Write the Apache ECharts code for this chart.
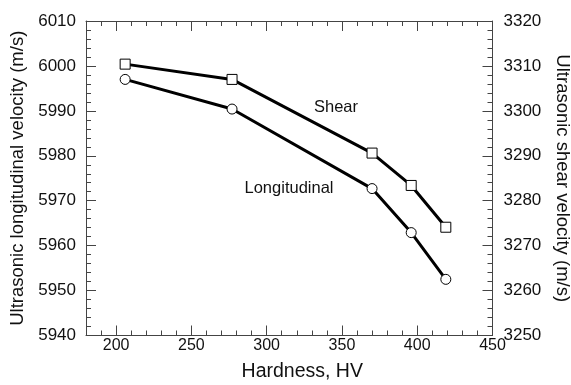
<!DOCTYPE html>
<html><head><meta charset="utf-8">
<script src="https://cdn.jsdelivr.net/npm/echarts@6/dist/echarts.min.js"></script>
<style>html,body{margin:0;padding:0;background:#fff}#c{width:571px;height:385px}</style>
</head><body><div id="c"></div>
<script>
const hardness = [206, 277, 370, 396, 419];
const longitudinal = [5997.0, 5990.4, 5972.7, 5962.9, 5952.5];
const shear = [3310.4, 3307.0, 3290.6, 3283.4, 3274.1];
const xTitle = 'Hardness, HV';
const yLeftTitle = 'Ultrasonic longitudinal velocity (m/s)';
const yRightTitle = 'Ultrasonic shear velocity (m/s)';
const seriesLabels = ['Shear', 'Longitudinal'];

const font = 'Liberation Sans, Arial, sans-serif';
const axisCol = '#444';
const txtCol = '#111';
const chart = echarts.init(document.getElementById('c'));
const xBase = {type:'value', min:180, max:450, splitLine:{show:false}, gridIndex:0};
chart.setOption({
  animation:false,
  grid:{left:86, right:78.5, top:21, bottom:49.5, containLabel:false, outerBoundsMode:'none'},
  xAxis:[
    Object.assign({}, xBase, {position:'bottom', interval:10,
      axisLine:{lineStyle:{color:axisCol, width:1}},
      axisTick:{inside:true, length:5, lineStyle:{color:axisCol}},
      axisLabel:{color:txtCol, fontSize:16, fontFamily:font, margin:2,
        formatter:v => (v % 50 === 0 ? String(v) : '')},
      name:xTitle, nameLocation:'middle', nameGap:26,
      nameTextStyle:{color:txtCol, fontSize:19.5, fontFamily:font, padding:[0,0,0,26]}}),
    Object.assign({}, xBase, {position:'bottom', splitNumber:5,
      axisLine:{show:false}, axisTick:{inside:true, length:10, lineStyle:{color:axisCol}},
      axisLabel:{show:false}}),
    Object.assign({}, xBase, {position:'top', interval:10,
      axisLine:{lineStyle:{color:axisCol, width:1}},
      axisTick:{inside:true, length:5, lineStyle:{color:axisCol}}, axisLabel:{show:false}}),
    Object.assign({}, xBase, {position:'top', splitNumber:5,
      axisLine:{show:false}, axisTick:{inside:true, length:10, lineStyle:{color:axisCol}},
      axisLabel:{show:false}})
  ],
  yAxis:[
    {type:'value', position:'left', min:5940, max:6010, interval:10, splitLine:{show:false},
      axisLine:{show:true, lineStyle:{color:axisCol, width:1}},
      axisTick:{inside:true, length:10, lineStyle:{color:axisCol}},
      minorTick:{show:true, splitNumber:5, length:5, lineStyle:{color:axisCol}},
      axisLabel:{color:txtCol, fontSize:17, fontFamily:font, margin:10, formatter:v => String(v)},
      name:yLeftTitle, nameLocation:'middle', nameGap:59, nameRotate:90,
      nameTextStyle:{color:txtCol, fontSize:18.5, fontFamily:font}},
    {type:'value', position:'right', min:3250, max:3320, interval:10, splitLine:{show:false},
      axisLine:{show:true, lineStyle:{color:axisCol, width:1}},
      axisTick:{inside:true, length:10, lineStyle:{color:axisCol}},
      minorTick:{show:true, splitNumber:5, length:5, lineStyle:{color:axisCol}},
      axisLabel:{color:txtCol, fontSize:17, fontFamily:font, margin:11, formatter:v => String(v)},
      name:yRightTitle, nameLocation:'middle', nameGap:59, nameRotate:-90,
      nameTextStyle:{color:txtCol, fontSize:18.5, fontFamily:font}}
  ],
  series:[
    {type:'line', name:'Longitudinal', xAxisIndex:0, yAxisIndex:0,
      data:hardness.map((h,i)=>[h, longitudinal[i]]),
      symbol:'circle', symbolSize:10, showAllSymbol:true,
      lineStyle:{color:'#000', width:3},
      itemStyle:{color:'#fff', borderColor:'#000', borderWidth:1}},
    {type:'line', name:'Shear', xAxisIndex:0, yAxisIndex:1,
      data:hardness.map((h,i)=>[h, shear[i]]),
      symbol:'rect', symbolSize:10, showAllSymbol:true,
      lineStyle:{color:'#000', width:3},
      itemStyle:{color:'#fff', borderColor:'#000', borderWidth:1}}
  ],
  graphic:[
    {type:'text', x:336, y:107, style:{text:seriesLabels[0], fill:txtCol, font:'16.5px ' + font, textAlign:'center', textVerticalAlign:'middle'}},
    {type:'text', x:289, y:188, style:{text:seriesLabels[1], fill:txtCol, font:'16.5px ' + font, textAlign:'center', textVerticalAlign:'middle'}}
  ]
});
</script></body></html>
